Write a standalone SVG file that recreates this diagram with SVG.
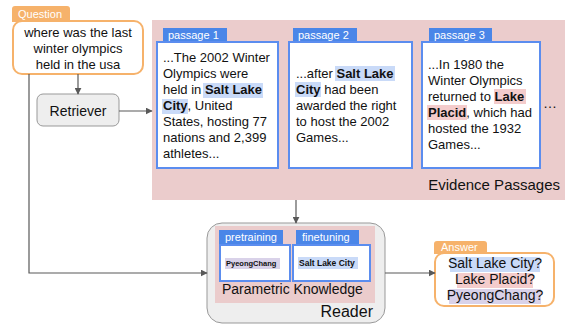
<svg xmlns="http://www.w3.org/2000/svg" width="565" height="327" viewBox="0 0 565 327">
<style>
text{font-family:"Liberation Sans",Arial,sans-serif;fill:#111}
.t13{font-size:13px}
.tab{fill:#4a86e8}
.tabt{font-size:11px;fill:#fff}
.pbox{fill:#fff;stroke:#5b8def;stroke-width:2}
.otab{fill:#f6b26b}
.obox{fill:#fff;stroke:#f6b26b;stroke-width:2}
.b{font-weight:bold}
.hb{fill:#c9daf8}
.hr{fill:#f4cccc}
.hv{fill:#d9d2e9}
.conn{fill:none;stroke:#595959;stroke-width:1.2}
</style>
<defs>
<marker id="ah" viewBox="0 0 10 10" refX="9" refY="5" markerWidth="7" markerHeight="7" orient="auto" markerUnits="userSpaceOnUse">
<path d="M0,0 L10,5 L0,10 z" fill="#595959"/>
</marker>
</defs>
<rect width="565" height="327" fill="#fff"/>

<g id="evidence">
<rect x="152" y="20" width="413" height="180" fill="#ebcccc"/>
<text x="560" y="190" font-size="15" text-anchor="end">Evidence Passages</text>
<text x="550" y="108" font-size="14" text-anchor="middle">…</text>
</g>

<g id="question">
<path class="otab" d="M12,9 a3,3 0 0 1 3,-3 h52 a3,3 0 0 1 3,3 v13 h-58 z"/>
<text x="18" y="18" class="tabt">Question</text>
<rect class="obox" x="13" y="21" width="130" height="53" rx="9"/>
<text x="78" y="37" class="t13" text-anchor="middle">where was the last</text>
<text x="78" y="53" class="t13" text-anchor="middle">winter olympics</text>
<text x="78" y="69" class="t13" text-anchor="middle">held in the usa</text>
</g>

<g id="retriever">
<rect x="37" y="94" width="82" height="32" rx="6" fill="#eeeeee" stroke="#999" stroke-width="1"/>
<text x="78" y="115.5" font-size="14" text-anchor="middle">Retriever</text>
</g>

<g id="passage1">
<rect class="tab" x="163" y="28" width="64" height="15"/>
<text x="168" y="39" class="tabt">passage 1</text>
<rect class="pbox" x="157" y="42" width="121" height="126"/>
<rect class="hb" x="203" y="83" width="60" height="15"/>
<rect class="hb" x="162" y="99" width="26" height="15"/>
<text x="163" y="62" class="t13">...The 2002 Winter</text>
<text x="163" y="78" class="t13">Olympics were</text>
<text x="163" y="94" class="t13">held in <tspan class="b">Salt Lake</tspan></text>
<text x="163" y="110" class="t13"><tspan class="b">City</tspan>, United</text>
<text x="163" y="126" class="t13">States, hosting 77</text>
<text x="163" y="142" class="t13">nations and 2,399</text>
<text x="163" y="158" class="t13">athletes...</text>
</g>

<g id="passage2">
<rect class="tab" x="293" y="28" width="64" height="15"/>
<text x="298" y="39" class="tabt">passage 2</text>
<rect class="pbox" x="289" y="42" width="123" height="126"/>
<rect class="hb" x="335" y="66" width="60" height="15"/>
<rect class="hb" x="295" y="82" width="26" height="15"/>
<text x="296" y="78" class="t13">...after <tspan class="b">Salt Lake</tspan></text>
<text x="296" y="94" class="t13"><tspan class="b">City</tspan> had been</text>
<text x="296" y="110" class="t13">awarded the right</text>
<text x="296" y="126" class="t13">to host the 2002</text>
<text x="296" y="142" class="t13">Games...</text>
</g>

<g id="passage3">
<rect class="tab" x="429" y="28" width="63" height="15"/>
<text x="434" y="39" class="tabt">passage 3</text>
<rect class="pbox" x="422" y="42" width="118" height="126"/>
<rect class="hr" x="494" y="89" width="32" height="15"/>
<rect class="hr" x="427" y="105" width="40" height="15"/>
<text x="428" y="69" class="t13">...In 1980 the</text>
<text x="428" y="85" class="t13">Winter Olympics</text>
<text x="428" y="101" class="t13">returned to <tspan class="b">Lake</tspan></text>
<text x="428" y="117" class="t13"><tspan class="b">Placid</tspan>, which had</text>
<text x="428" y="133" class="t13">hosted the 1932</text>
<text x="428" y="149" class="t13">Games...</text>
</g>

<g id="reader">
<rect x="207" y="223" width="178" height="100" rx="15" fill="#eeeeee" stroke="#999" stroke-width="1"/>
<rect x="215" y="226" width="160" height="77" fill="#ebcccc"/>
<text x="373" y="317" font-size="16" text-anchor="end">Reader</text>
<text x="222" y="294" font-size="14">Parametric Knowledge</text>
</g>

<g id="pretraining">
<rect class="tab" x="219" y="230" width="64" height="15"/>
<text x="225" y="241" class="tabt">pretraining</text>
<rect class="pbox" x="220" y="245" width="70" height="36"/>
<rect class="hv" x="225" y="258" width="55" height="11"/>
<text x="226" y="266" font-size="7.5" class="b">PyeongChang</text>
</g>

<g id="finetuning">
<rect class="tab" x="296" y="230" width="63" height="15"/>
<text x="302" y="241" class="tabt">finetuning</text>
<rect class="pbox" x="293" y="245" width="77" height="36"/>
<rect class="hb" x="298" y="257" width="60" height="12"/>
<text x="299" y="266" font-size="8.5" class="b">Salt Lake City</text>
</g>

<g id="answer">
<path class="otab" d="M434,244 a3,3 0 0 1 3,-3 h47 a3,3 0 0 1 3,3 v10 h-53 z"/>
<text x="441" y="251" class="tabt">Answer</text>
<rect class="obox" x="435" y="253" width="119" height="53" rx="9"/>
<rect class="hb" x="450" y="257" width="90" height="15"/>
<rect class="hr" x="457" y="273" width="76" height="15"/>
<rect class="hv" x="449" y="289" width="92" height="15"/>
<text x="495" y="268" font-size="14" text-anchor="middle">Salt Lake City?</text>
<text x="495" y="284" font-size="14" text-anchor="middle">Lake Placid?</text>
<text x="495" y="300" font-size="14" text-anchor="middle">PyeongChang?</text>
</g>

<g id="connectors">
<path class="conn" d="M78,74 V94" marker-end="url(#ah)"/>
<path class="conn" d="M119,111 H152" marker-end="url(#ah)"/>
<path class="conn" d="M29,74 V273 H207" marker-end="url(#ah)"/>
<path class="conn" d="M296,200 V223" marker-end="url(#ah)"/>
<path class="conn" d="M385,273 H435" marker-end="url(#ah)"/>
</g>
</svg>
